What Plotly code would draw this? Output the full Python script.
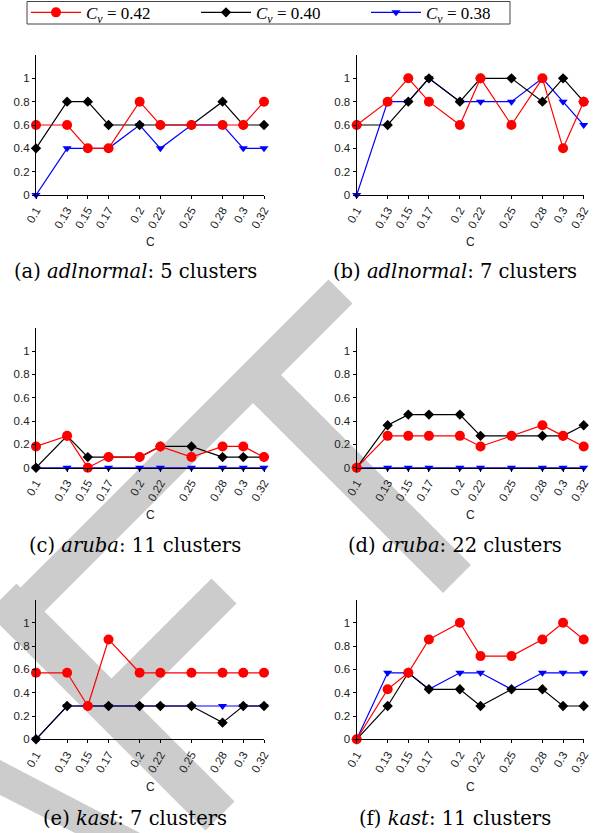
import plotly.graph_objects as go

W, H = 605, 833

c_vals = [0.1, 0.13, 0.15, 0.17, 0.2, 0.22, 0.25, 0.28, 0.3, 0.32]
c_ticktext = ["0.1", "0.13", "0.15", "0.17", "0.2", "0.22", "0.25", "0.28", "0.3", "0.32"]
y_tickvals = [0, 0.2, 0.4, 0.6, 0.8, 1.0]
y_ticktext = ["0", "0.2", "0.4", "0.6", "0.8", "1"]

series_names = ["<i>C<sub>v</sub></i> = 0.42", "<i>C<sub>v</sub></i> = 0.40", "<i>C<sub>v</sub></i> = 0.38"]

# (a) adlnormal: 5 clusters
a_cv042 = [0.6, 0.6, 0.4, 0.4, 0.8, 0.6, 0.6, 0.6, 0.6, 0.8]
a_cv040 = [0.4, 0.8, 0.8, 0.6, 0.6, 0.6, 0.6, 0.8, 0.6, 0.6]
a_cv038 = [0.0, 0.4, 0.4, 0.4, 0.6, 0.4, 0.6, 0.6, 0.4, 0.4]
# (b) adlnormal: 7 clusters
b_cv042 = [0.6, 0.8, 1.0, 0.8, 0.6, 1.0, 0.6, 1.0, 0.4, 0.8]
b_cv040 = [0.6, 0.6, 0.8, 1.0, 0.8, 1.0, 1.0, 0.8, 1.0, 0.8]
b_cv038 = [0.0, 0.8, 0.8, 1.0, 0.8, 0.8, 0.8, 1.0, 0.8, 0.6]
# (c) aruba: 11 clusters
c_cv042 = [0.182, 0.273, 0.0, 0.091, 0.091, 0.182, 0.091, 0.182, 0.182, 0.091]
c_cv040 = [0.0, 0.273, 0.091, 0.091, 0.091, 0.182, 0.182, 0.091, 0.091, 0.091]
c_cv038 = [0.0, 0.0, 0.0, 0.0, 0.0, 0.0, 0.0, 0.0, 0.0, 0.0]
# (d) aruba: 22 clusters
d_cv042 = [0.0, 0.273, 0.273, 0.273, 0.273, 0.182, 0.273, 0.364, 0.273, 0.182]
d_cv040 = [0.0, 0.364, 0.455, 0.455, 0.455, 0.273, 0.273, 0.273, 0.273, 0.364]
d_cv038 = [0.0, 0.0, 0.0, 0.0, 0.0, 0.0, 0.0, 0.0, 0.0, 0.0]
# (e) kast: 7 clusters
e_cv042 = [0.571, 0.571, 0.286, 0.857, 0.571, 0.571, 0.571, 0.571, 0.571, 0.571]
e_cv040 = [0.0, 0.286, 0.286, 0.286, 0.286, 0.286, 0.286, 0.143, 0.286, 0.286]
e_cv038 = [0.0, 0.286, 0.286, 0.286, 0.286, 0.286, 0.286, 0.286, 0.286, 0.286]
# (f) kast: 11 clusters
f_cv042 = [0.0, 0.429, 0.571, 0.857, 1.0, 0.714, 0.714, 0.857, 1.0, 0.857]
f_cv040 = [0.0, 0.286, 0.571, 0.429, 0.429, 0.286, 0.429, 0.429, 0.286, 0.286]
f_cv038 = [0.0, 0.571, 0.571, 0.429, 0.571, 0.571, 0.429, 0.571, 0.571, 0.571]

panels = [
    ("(a) <i>adlnormal</i>: 5 clusters", a_cv042, a_cv040, a_cv038),
    ("(b) <i>adlnormal</i>: 7 clusters", b_cv042, b_cv040, b_cv038),
    ("(c) <i>aruba</i>: 11 clusters", c_cv042, c_cv040, c_cv038),
    ("(d) <i>aruba</i>: 22 clusters", d_cv042, d_cv040, d_cv038),
    ("(e) <i>kast</i>: 7 clusters", e_cv042, e_cv040, e_cv038),
    ("(f) <i>kast</i>: 11 clusters", f_cv042, f_cv040, f_cv038),
]

# layout geometry in pixels
col_x = [(36, 264), (356.7, 583.7)]
row_y = [(55, 195), (327.7, 467.7), (599.5, 739.3)]
caption_cx = [135, 455]
caption_y = [271.7, 545, 818]
ctitle_y = [241.7, 515, 786.7]

def px(x):
    return x / W

def py(y):
    return 1 - y / H

fig = go.Figure()

styles = [
    dict(color="#ff0000", symbol="circle", size=10),
    dict(color="#000000", symbol="diamond", size=8),
    dict(color="#0000ff", symbol="triangle-down", size=8),
]
draw_order = [2, 1, 0]

annotations = []
for i, (cap, s42, s40, s38) in enumerate(panels):
    r, c = divmod(i, 2)
    idx = i + 1
    xa = "x" if idx == 1 else f"x{idx}"
    ya = "y" if idx == 1 else f"y{idx}"
    data = [s42, s40, s38]
    for k in draw_order:
        st = styles[k]
        fig.add_trace(go.Scatter(
            x=c_vals, y=data[k], mode="lines+markers",
            name=series_names[k], legendgroup=str(k), showlegend=(i == 0),
            legendrank=k + 1,
            line=dict(color=st["color"], width=1.2),
            marker=dict(color=st["color"], symbol=st["symbol"], size=st["size"]),
            cliponaxis=False, xaxis=xa, yaxis=ya,
        ))
    x0, x1 = col_x[c]
    y0, y1 = row_y[r]
    axis_common = dict(showline=True, linecolor="black", linewidth=1.3,
                       showgrid=False, zeroline=False, ticks="outside",
                       ticklen=3, tickcolor="black", tickwidth=1, automargin=False,
                       tickfont=dict(family="Liberation Sans, Arial, sans-serif", size=11.5, color="#222"))
    fig.update_layout(**{
        ("xaxis" if idx == 1 else f"xaxis{idx}"): dict(
            domain=[px(x0), px(x1)], range=[0.1, 0.32], anchor=ya,
            tickmode="array", tickvals=c_vals, ticktext=c_ticktext, tickangle=-60,
            **axis_common),
        ("yaxis" if idx == 1 else f"yaxis{idx}"): dict(
            domain=[py(y1), py(y0)], range=[0, 1.2], anchor=xa,
            tickmode="array", tickvals=y_tickvals, ticktext=y_ticktext,
            **axis_common),
    })
    annotations.append(dict(
        text="C", xref="paper", yref="paper", x=px((x0 + x1) / 2), y=py(ctitle_y[r]),
        xanchor="center", yanchor="middle", showarrow=False,
        font=dict(family="Liberation Sans, Arial, sans-serif", size=12, color="#222")))
    annotations.append(dict(
        text=cap, xref="paper", yref="paper", x=px(caption_cx[c]), y=py(caption_y[r]),
        xanchor="center", yanchor="middle", showarrow=False,
        font=dict(family="DejaVu Serif, serif", size=19.5, color="black")))

# background watermark ("DRAFT", rotated) drawn as gray strokes behind the plots
wm_polys = [
    [(328.5, 279.5), (352.5, 303.5), (15.5, 640.5), (-8.5, 616.5)],
    [(268, 362), (240, 390), (443, 593), (471, 565)],
    [(16.5, 583.5), (234.5, 801.5), (205.5, 830.5), (-12.5, 612.5)],
    [(211.5, 578.5), (236.5, 603.5), (130, 710), (105, 685)],
    [(0, 760), (140, 833), (75, 833), (0, 795)],
]
shapes = []
for poly in wm_polys:
    path = "M " + " L ".join(f"{px(x):.5f},{py(y):.5f}" for x, y in poly) + " Z"
    shapes.append(dict(type="path", path=path, xref="paper", yref="paper",
                       fillcolor="#cccccc", line=dict(width=0), layer="below"))
# legend frame
shapes.append(dict(type="rect", xref="paper", yref="paper",
                   x0=px(27), x1=px(510), y0=py(24), y1=py(1.5),
                   line=dict(color="#444", width=1), fillcolor="rgba(0,0,0,0)", layer="above"))

fig.update_layout(
    width=W, height=H,
    margin=dict(l=0, r=0, t=0, b=0, autoexpand=False),
    paper_bgcolor="white", plot_bgcolor="rgba(0,0,0,0)",
    annotations=annotations, shapes=shapes,
    showlegend=True,
    legend=dict(orientation="h", x=px(26), y=py(12.8), xanchor="left", yanchor="middle",
                borderwidth=0, bgcolor="rgba(0,0,0,0)",
                font=dict(family="Liberation Serif, serif", size=17, color="black"),
                itemwidth=50, entrywidth=105, entrywidthmode="pixels",
                traceorder="normal", itemclick=False),
)

fig.write_html("out.html",
               config={"displayModeBar": False},
               post_script="document.body.style.margin='0';document.body.style.padding='0';")
